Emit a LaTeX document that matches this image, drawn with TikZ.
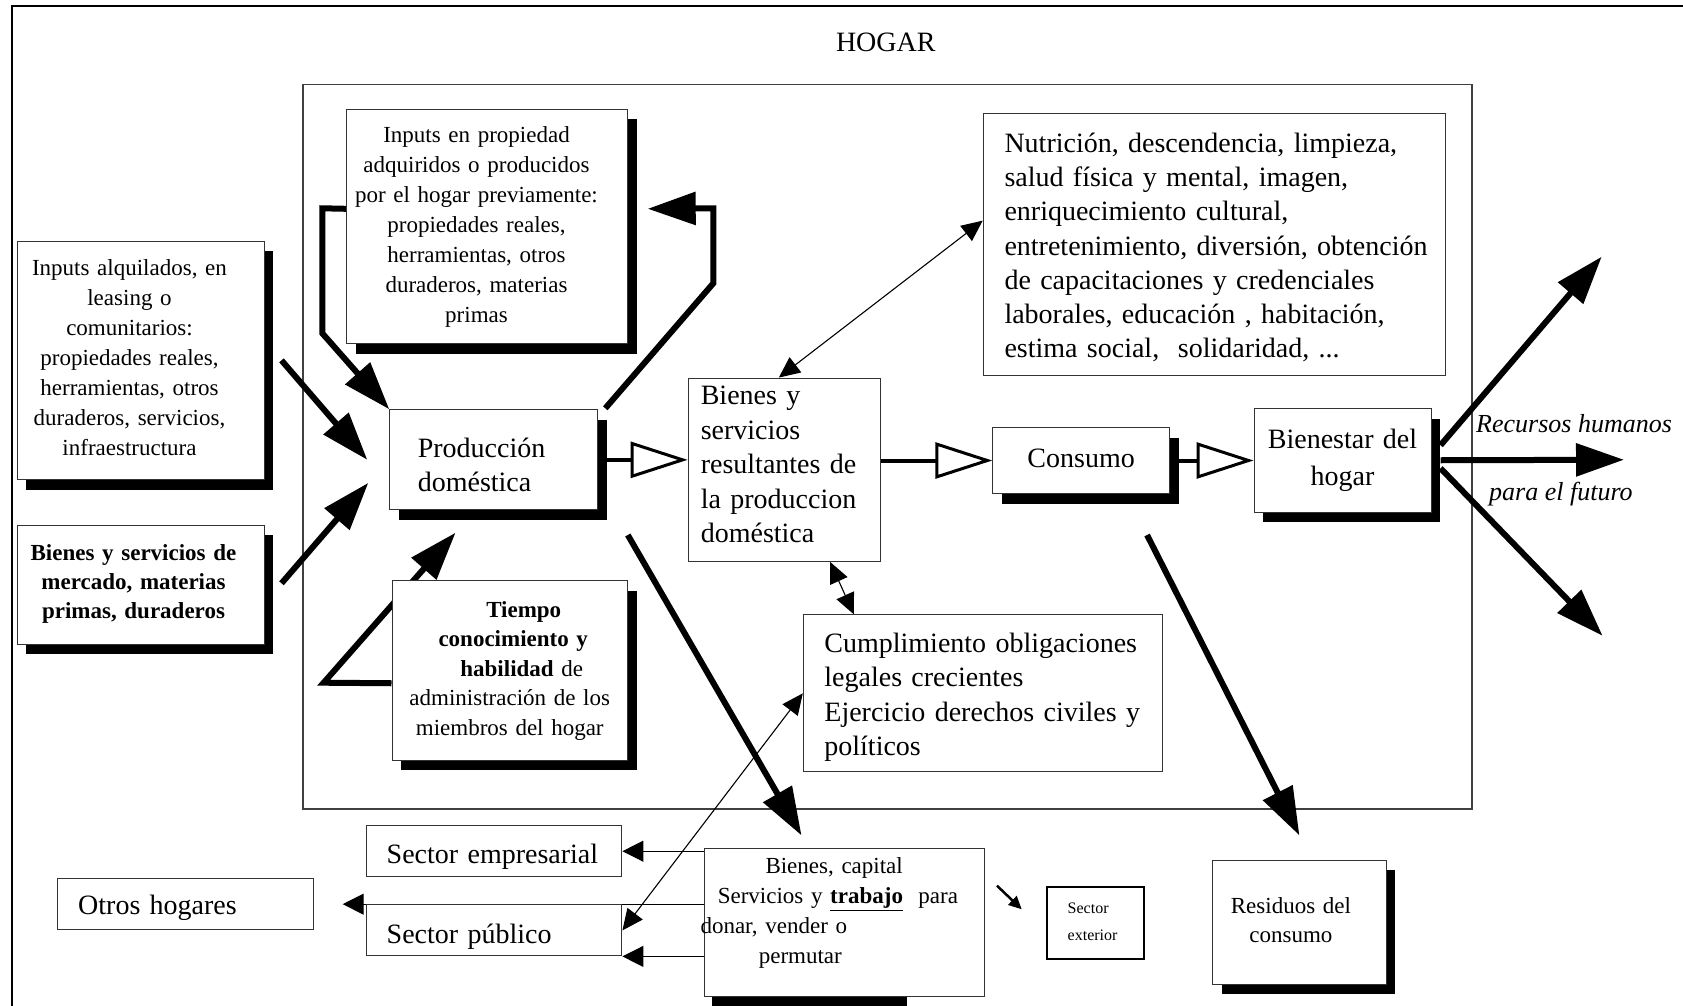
\documentclass[tikz,border=0pt]{standalone}
\usepackage{fontspec}
\setmainfont{Liberation Serif}
\usetikzlibrary{arrows.meta,shadows}
\pgfdeclarelayer{back}
\pgfsetlayers{back,main}

\begin{document}
\begin{tikzpicture}[x=1pt,y=-1pt,
  box/.style={draw=black!80,line width=1pt,fill=white,inner sep=0pt,anchor=north west},
  shbox/.style={box,drop shadow={shadow xshift=9pt,shadow yshift=-10pt,fill=black,opacity=1}},
  txs/.style={font=\fontsize{23}{30}\selectfont},
  txl/.style={font=\fontsize{28}{34.4}\selectfont},
  ctr/.style={align=center,execute at begin node={\leftskip=0pt plus 1fil\rightskip=#1 plus 1fil\parfillskip=0pt\relax}},
  ctr/.default=0pt,
  lft/.style={align=left,execute at begin node={\leftskip=0pt\rightskip=-60pt plus 1fil\parfillskip=0pt\relax}},
  fat/.style={line width=6pt,-{Triangle[length=48pt,width=32pt]}},
  hollow/.style={line width=4pt,-{Triangle[open,length=57pt,width=36pt,line width=3pt]}},
  duo/.style={line width=1.1pt,{Triangle[length=21pt,width=19pt]}-{Triangle[length=21pt,width=19pt]}},
  feed/.style={line width=1.1pt,-{Triangle[length=21pt,width=21pt]}}]
\useasboundingbox (0,0) rectangle (1683,1006);

\node[anchor=base,inner sep=0pt,txl] (hogar) at (885.8,51.7) {HOGAR};

\node[shbox,txs,ctr=22pt,text width=247pt,text height=34pt,text depth=204.3pt] (alq) at (16.5,240.7)
  {Inputs alquilados, en\\leasing o\\comunitarios:\\propiedades reales,\\herramientas, otros\\duraderos, servicios,\\infraestructura};
\node[shbox,txs,ctr=21pt,text width=281pt,text height=33pt,text depth=201pt] (prop) at (346,109)
  {Inputs en propiedad\\adquiridos o producidos\\por el hogar previamente:\\propiedades reales,\\herramientas, otros\\duraderos, materias\\primas};
\node[shbox,txl,lft,minimum width=208pt,text width=152pt,text height=47.7pt,text depth=52.4pt] (prod) at (389.3,409.3)
  {Producción\\doméstica};
\node[shbox,font=\fontsize{23}{29}\selectfont\bfseries,ctr=14pt,text width=247pt,text height=35.5pt,text depth=83.5pt] (merc) at (16.5,524.9)
  {Bienes y servicios de\\mercado, materias\\primas, duraderos};
\node[shbox,font=\fontsize{23}{29.5}\selectfont,ctr,text width=235.5pt,text height=36.5pt,text depth=143pt] (tiem) at (391.5,580)
  {\hspace*{28pt}\textbf{Tiempo}\\\hspace*{7pt}\textbf{conocimiento y}\\\hspace*{24pt}\textbf{habilidad} de\\administración de los\hspace*{24pt}\\miembros del hogar\hspace*{22pt}};
\node[box,txl,lft,minimum width=192.4pt,text width=167pt,text height=26.8pt,text depth=156.5pt] (bsr) at (687.6,377.6)
  {Bienes y\\servicios\\resultantes de\\la produccion\\doméstica};
\node[box,font=\fontsize{28}{34.27}\selectfont,lft,minimum width=462.3pt,text width=419.7pt,text height=38.4pt,text depth=223.3pt] (nutr) at (982.7,113.3)
  {Nutrición, descendencia, limpieza,\\salud física y mental, imagen,\\enriquecimiento cultural,\\entretenimiento, diversión, obtención\\de capacitaciones y credenciales\\laborales, educación , habitación,\\estima social,\ \ solidaridad, ...};
\node[shbox,txl,ctr,text width=176.7pt,text height=40pt,text depth=26pt] (cons) at (992.3,427) {Consumo};
\node[shbox,font=\fontsize{28}{36.7}\selectfont,ctr,text width=177pt,text height=40pt,text depth=63.5pt] (bien) at (1253.5,408)
  {Bienestar del\\hogar};
\node[box,txl,lft,minimum width=359pt,text width=316.8pt,text height=37.6pt,text depth=119.3pt] (cumpl) at (802.8,614.4)
  {Cumplimiento obligaciones\\legales crecientes\\Ejercicio derechos civiles y\\políticos};
\node[box,txl,lft,minimum width=255.4pt,text width=215pt,text height=37.5pt,text depth=13.5pt] (emp) at (366,825.2) {Sector empresarial};
\node[box,txl,lft,minimum width=255.4pt,text width=215pt,text height=38.6pt,text depth=12.4pt] (pub) at (366,904.4) {Sector público};
\node[box,txl,lft,minimum width=256pt,text width=214pt,text height=35.7pt,text depth=15pt] (otros) at (56.7,878.3) {Otros hogares};
\node[box,font=\fontsize{23}{29.8}\selectfont,lft,text width=280pt,text height=25pt,text depth=122.4pt] (bcap) at (704,848.3)
  {\hspace*{61pt}Bienes, capital\\\hspace*{13.3pt}Servicios y \underline{\textbf{trabajo}}\ \ para\\\hspace*{-4pt}donar, vender o\\\hspace*{54.3pt}permutar};
\node[box,draw=black,line width=2pt,font=\fontsize{16}{26.6}\selectfont,lft,minimum width=97.3pt,text width=55.9pt,text height=27pt,text depth=45.6pt] (sext) at (1046,885.7)
  {Sector\\exterior};
\node[shbox,font=\fontsize{23}{29.2}\selectfont,ctr=17pt,text width=173.2pt,text height=53.2pt,text depth=71.1pt] (resid) at (1212.3,859.6)
  {Residuos del\\consumo};
\node[anchor=base west,inner sep=0pt,font=\fontsize{26}{30}\selectfont\itshape] (rh1) at (1476,432.8) {Recursos humanos};
\node[anchor=base west,inner sep=0pt,font=\fontsize{26}{30}\selectfont\itshape] (rh2) at (1489,500.6) {para el futuro};

\coordinate (l1) at (322.3,208.3);
\coordinate (l2) at (322.3,333.3);
\coordinate (t1) at (713.3,283.3);
\coordinate (t2) at (713.3,208.3);
\coordinate (b1) at (323.7,682.7);
\coordinate (up) at (1601.7,256.7);
\coordinate (mid) at (1624,459.75);
\coordinate (dn) at (1602.6,635.8);

\begin{pgfonlayer}{back}
\draw[line width=2.7pt] (12,6) rectangle (1720,1040);
\draw[black!75,line width=1.4pt] (303,84.5) rectangle (1472,809);
\fill (712.3,995.7) rectangle (906.7,1020);
\draw[fat] ([xshift=17pt]alq.east) -- ([xshift=-22pt]prod.west);
\draw[fat] ([xshift=17pt,yshift=1.6pt]merc.east) -- ([xshift=-21pt,yshift=-23pt]prod.west);
\draw[fat] ([yshift=17.7pt]prop.west) -- (l1) -- (l2) -- (prod.north west);
\draw[fat] ([xshift=7pt,yshift=1pt]prod.north east) -- (t1) -- (t2) -- ([xshift=19.7pt,yshift=17.7pt]prop.east);
\draw[fat] ([yshift=-13pt]tiem.west) -- (b1) -- ([xshift=-38.3pt,yshift=-22.3pt]prod.south);
\draw[fat] ([xshift=29.5pt,yshift=-24.6pt]prod.south east) -- ([xshift=-43pt,yshift=12.9pt]bcap.north);
\draw[fat] ([xshift=65.9pt,yshift=-41pt]cons.south) -- ([yshift=24.2pt]resid.north);
\draw[fat] ([xshift=9pt,yshift=15pt]bien.east) -- (up);
\draw[fat] ([xshift=9pt]bien.east) -- (mid);
\draw[fat] ([xshift=9pt,yshift=-8pt]bien.east) -- (dn);
\draw[hollow] ([xshift=9pt]prod.east) -- (bsr.west |- prod.east);
\draw[hollow] (bsr.east |- cons.west) -- (cons.west);
\draw[hollow] ([xshift=9pt]cons.east) -- (bien.west |- cons.east);
\draw[duo] ([yshift=24pt]nutr.west) -- ([xshift=-5.5pt]bsr.north);
\draw[duo] ([xshift=45.8pt]bsr.south) -- ([xshift=-128.9pt]cumpl.north);
\draw[duo] (cumpl.west) -- (pub.east);
\draw[feed] (bcap.west |- emp.east) -- (emp.east);
\draw[feed] (bcap.west |- otros.east) -- ([xshift=29pt]otros.east);
\draw[feed] (bcap.west |- pub.south east) -- (pub.south east);
\draw[line width=2.5pt,-{Triangle[length=13pt,width=12pt]}] ([xshift=-49pt]sext.north west) -- ([xshift=-24.3pt,yshift=-23.6pt]sext.north west);
\end{pgfonlayer}
\end{tikzpicture}
\end{document}
